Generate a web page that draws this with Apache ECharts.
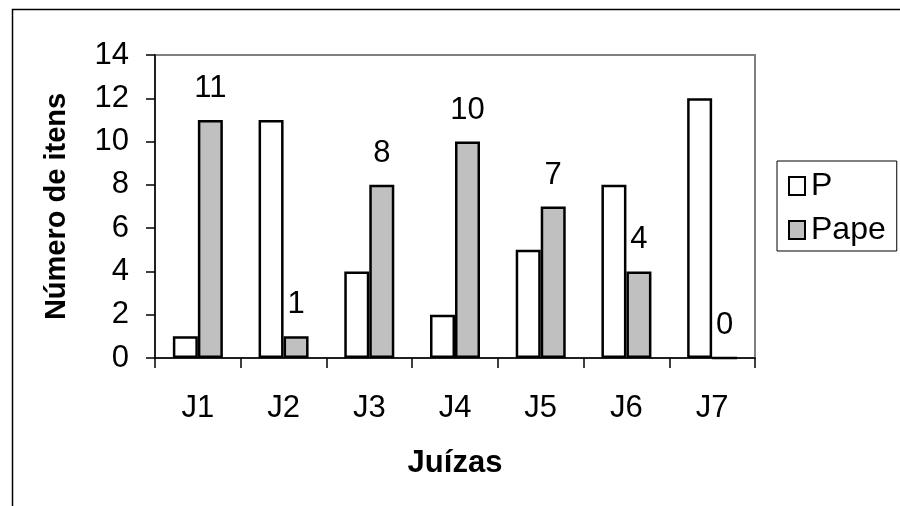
<!DOCTYPE html>
<html>
<head>
<meta charset="utf-8">
<script src="https://cdn.jsdelivr.net/npm/echarts@6/dist/echarts.min.js"></script>
<style>html,body{margin:0;padding:0;background:#fff}#c{width:900px;height:506px}</style>
</head>
<body>
<div id="c"></div>
<script>
const categories = ['J1','J2','J3','J4','J5','J6','J7'];
const seriesP = [1, 11, 4, 2, 5, 8, 12];
const seriesPape = [11, 1, 8, 10, 7, 4, 0];
const yTicks = { min: 0, max: 14, interval: 2 };

const FONT = '"Liberation Sans", Arial, sans-serif';
const chart = echarts.init(document.getElementById('c'), null, { renderer: 'canvas' });
chart.setOption({
  animation: false,
  backgroundColor: '#fff',
  textStyle: { fontFamily: FONT },
  graphic: [{
    type: 'rect', left: 10, top: 7, z: -10,
    shape: { x: 0, y: 0, width: 1000, height: 1000 },
    style: { fill: 'none', stroke: '#000', lineWidth: 1.5 }
  }],
  grid: { left: 155, top: 55, right: 145, bottom: 148, show: true, borderColor: '#808080', borderWidth: 2, backgroundColor: 'transparent' },
  legend: {
    orient: 'vertical', left: 777, top: 161,
    padding: [9, 11, 5, 11],
    borderColor: '#000', borderWidth: 1,
    icon: 'rect',
    itemWidth: 16, itemHeight: 18, itemGap: 12,
    textStyle: { fontSize: 32, color: '#000', fontFamily: FONT, padding: [0, 0, 0, 1] },
    data: ['P', 'Pape']
  },
  xAxis: {
    type: 'category', data: categories,
    name: 'Juízas', nameLocation: 'middle', nameGap: 90,
    nameTextStyle: { fontSize: 31, fontWeight: 'bold', color: '#000', fontFamily: FONT },
    axisLine: { lineStyle: { color: '#000', width: 1.5 } },
    axisTick: { show: true, length: 10, lineStyle: { color: '#000', width: 1.5 } },
    axisLabel: { fontSize: 31, color: '#000', margin: 35, fontFamily: FONT }
  },
  yAxis: {
    type: 'value', min: yTicks.min, max: yTicks.max, interval: yTicks.interval,
    name: 'Número de itens', nameLocation: 'middle', nameGap: 84, nameRotate: 90,
    nameTextStyle: { fontSize: 29, fontWeight: 'bold', color: '#000', fontFamily: FONT },
    axisLine: { show: true, lineStyle: { color: '#000', width: 1.5 } },
    axisTick: { show: true, length: 9, lineStyle: { color: '#000', width: 1.5 } },
    splitLine: { show: false },
    axisLabel: { fontSize: 31, color: '#000', margin: 26, fontFamily: FONT }
  },
  series: [
    {
      name: 'P', type: 'bar', data: seriesP,
      barWidth: 25, barGap: '0%',
      itemStyle: { color: '#fff', borderColor: '#000', borderWidth: 2.5 }
    },
    {
      name: 'Pape', type: 'bar', data: seriesPape,
      barWidth: 25,
      itemStyle: { color: '#c0c0c0', borderColor: '#000', borderWidth: 2.5 },
      label: { show: true, position: 'top', distance: 16, fontSize: 31, color: '#000', fontFamily: FONT }
    }
  ]
});
</script>
</body>
</html>
